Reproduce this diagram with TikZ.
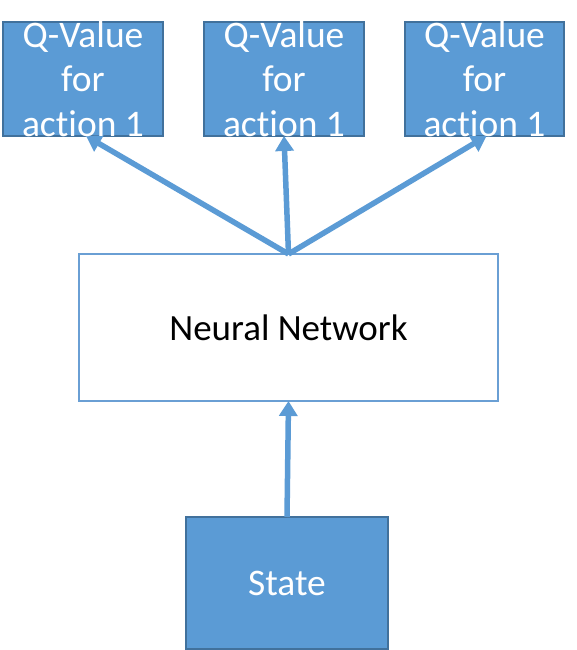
\documentclass[tikz,border=0pt]{standalone}
\usepackage{fontspec}
\setmainfont[Ligatures=NoCommon]{Carlito}
\usetikzlibrary{arrows.meta}
\definecolor{officeblue}{HTML}{5B9BD5}
\definecolor{boxedge}{HTML}{41719C}
\definecolor{nnedge}{HTML}{6A9FD4}
\begin{document}
\begin{tikzpicture}[x=1pt,y=-1pt,
  bluebox/.style={draw=boxedge, line width=1.5pt, fill=officeblue, inner sep=0pt, outer sep=0pt},
  nnbox/.style={draw=nnedge, line width=1.8pt, fill=white, inner sep=0pt, outer sep=0pt},
  whitetext/.style={text=white, font=\fontsize{37.5}{44.5}\selectfont, align=center, inner sep=0pt},
  blacktext/.style={text=black, font=\fontsize{37}{44}\selectfont, inner sep=0pt},
  flow/.style={draw=officeblue, line width=5.5pt, -{Triangle[width=18pt,length=15pt]}}
]
\useasboundingbox (0,0) rectangle (576,650);
% top boxes
\node[bluebox, minimum width=160pt, minimum height=114pt] (q1) at (83,79) {};
\node[bluebox, minimum width=160pt, minimum height=114pt] (q2) at (284,79) {};
\node[bluebox, minimum width=159pt, minimum height=114pt] (q3) at (484.5,79) {};
% network
\node[nnbox, minimum width=419pt, minimum height=147pt] (nn) at (288.5,327.5) {};
\node[blacktext] (nnt) at (nn.center) {Neural Network};
% state
\node[bluebox, minimum width=202pt, minimum height=132pt] (st) at (287,583) {};
\node[whitetext] (stt) at (st.center) {State};
% arrows
\draw[flow] (nn.north) -- ([xshift=3pt]q1.south);
\draw[flow] (nn.north) -- (q2.south);
\draw[flow] (nn.north) -- ([xshift=2pt]q3.south);
\draw[flow] (st.north) -- (nn.south);
% top box texts (drawn over arrows as in reference)
\node[whitetext] (q1t) at (q1.center) {Q-Value\\for\\action 1};
\node[whitetext] (q2t) at (q2.center) {Q-Value\\for\\action 1};
\node[whitetext] (q3t) at (q3.center) {Q-Value\\for\\action 1};
\end{tikzpicture}
\end{document}
